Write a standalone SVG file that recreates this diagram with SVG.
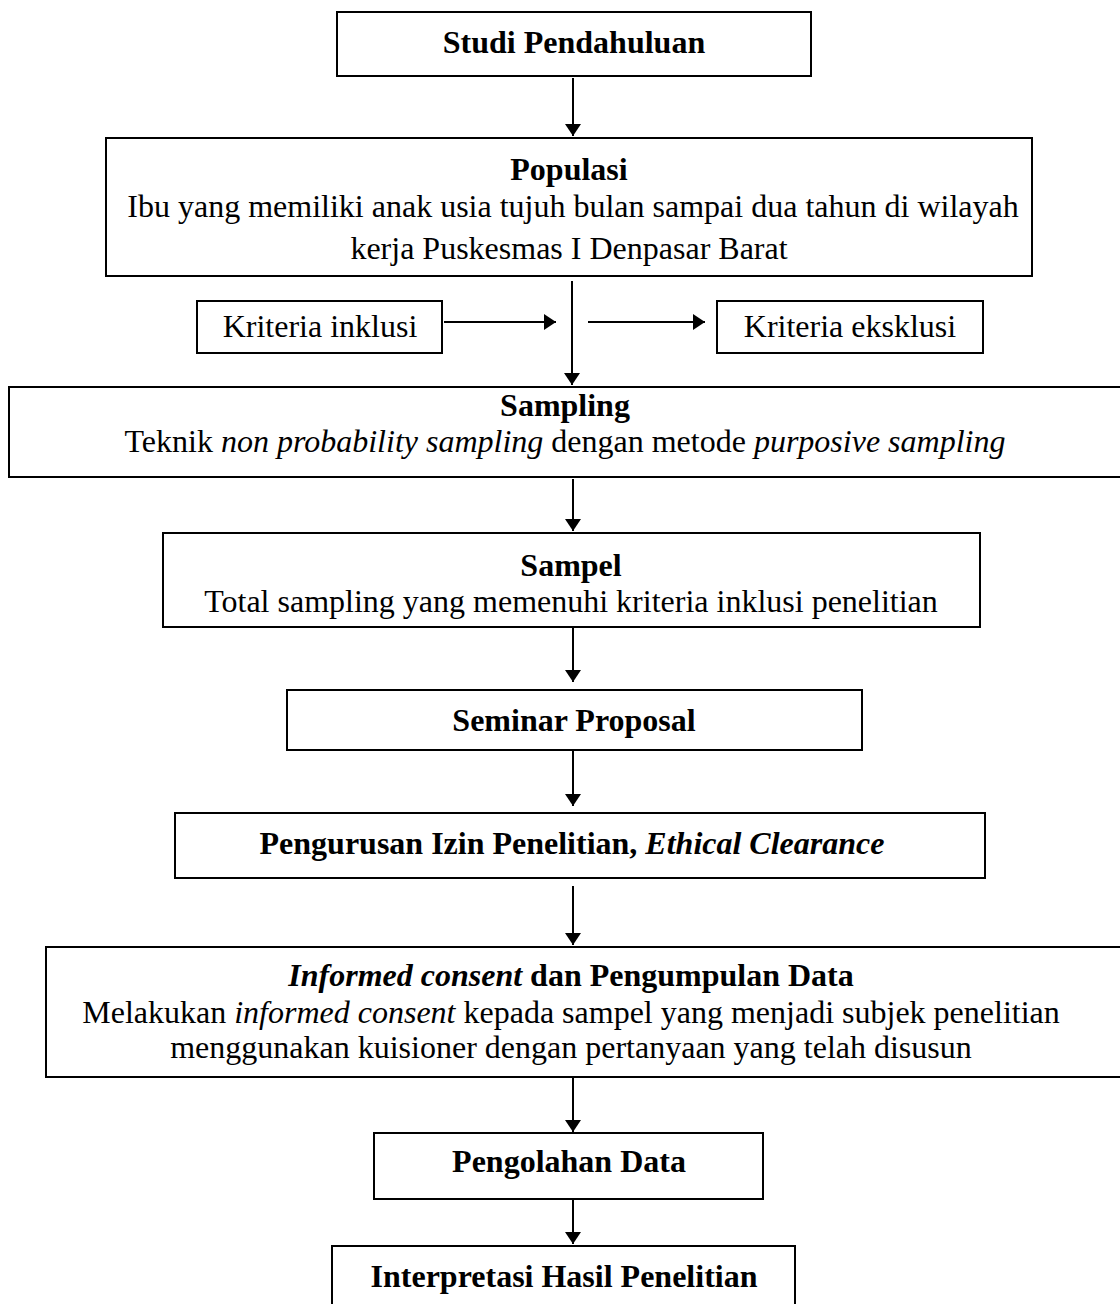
<svg xmlns="http://www.w3.org/2000/svg" width="1120" height="1304" viewBox="0 0 1120 1304">
<style>
.box{fill:#fff;stroke:#000;stroke-width:2}
.t{font-family:"Liberation Serif","Times New Roman",serif;font-size:32px;fill:#000;text-anchor:middle}
.b{font-weight:bold}
.i{font-style:italic}
.c{stroke:#000;stroke-width:2;fill:none}
</style>
<defs>
<marker id="ah" viewBox="0 0 12 16" refX="12" refY="8" markerWidth="12" markerHeight="16" markerUnits="userSpaceOnUse" orient="auto">
<path d="M0,0 L12,8 L0,16 Z" fill="#000"/>
</marker>
</defs>
<rect width="1120" height="1304" fill="#fff"/>
<g id="connectors">
<line class="c" x1="573" y1="78" x2="573" y2="136" marker-end="url(#ah)"/>
<line class="c" x1="572" y1="281" x2="572" y2="385" marker-end="url(#ah)"/>
<line class="c" x1="444" y1="322" x2="556" y2="322" marker-end="url(#ah)"/>
<line class="c" x1="588" y1="322" x2="705" y2="322" marker-end="url(#ah)"/>
<line class="c" x1="573" y1="479" x2="573" y2="531" marker-end="url(#ah)"/>
<line class="c" x1="573" y1="628" x2="573" y2="682" marker-end="url(#ah)"/>
<line class="c" x1="573" y1="751" x2="573" y2="806" marker-end="url(#ah)"/>
<line class="c" x1="573" y1="886" x2="573" y2="945" marker-end="url(#ah)"/>
<line class="c" x1="573" y1="1078" x2="573" y2="1132" marker-end="url(#ah)"/>
<line class="c" x1="573" y1="1200" x2="573" y2="1244" marker-end="url(#ah)"/>
</g>
<g id="studi">
<rect class="box" x="337" y="12" width="474" height="64"/>
<text class="t b" x="574" y="53">Studi Pendahuluan</text>
</g>
<g id="populasi">
<rect class="box" x="106" y="138" width="926" height="138"/>
<text class="t b" x="569" y="180">Populasi</text>
<text class="t" x="573" y="217">Ibu yang memiliki anak usia tujuh bulan sampai dua tahun di wilayah</text>
<text class="t" x="569" y="259">kerja Puskesmas I Denpasar Barat</text>
</g>
<g id="inklusi">
<rect class="box" x="197" y="301" width="245" height="52"/>
<text class="t" x="320" y="337">Kriteria inklusi</text>
</g>
<g id="eksklusi">
<rect class="box" x="717" y="301" width="266" height="52"/>
<text class="t" x="850" y="337">Kriteria eksklusi</text>
</g>
<g id="sampling">
<rect class="box" x="9" y="387" width="1120" height="90"/>
<text class="t b" x="565" y="416">Sampling</text>
<text class="t" x="565" y="452">Teknik <tspan class="i">non probability sampling</tspan> dengan metode <tspan class="i">purposive sampling</tspan></text>
</g>
<g id="sampel">
<rect class="box" x="163" y="533" width="817" height="94"/>
<text class="t b" x="571" y="576">Sampel</text>
<text class="t" x="571" y="612">Total sampling yang memenuhi kriteria inklusi penelitian</text>
</g>
<g id="seminar">
<rect class="box" x="287" y="690" width="575" height="60"/>
<text class="t b" x="574" y="731">Seminar Proposal</text>
</g>
<g id="izin">
<rect class="box" x="175" y="813" width="810" height="65"/>
<text class="t b" x="572" y="854">Pengurusan Izin Penelitian, <tspan class="i">Ethical Clearance</tspan></text>
</g>
<g id="informed">
<rect class="box" x="46" y="947" width="1080" height="130"/>
<text class="t b" x="571" y="986"><tspan class="i">Informed consent</tspan> dan Pengumpulan Data</text>
<text class="t" x="571" y="1023">Melakukan <tspan class="i">informed consent</tspan> kepada sampel yang menjadi subjek penelitian</text>
<text class="t" x="571" y="1058">menggunakan kuisioner dengan pertanyaan yang telah disusun</text>
</g>
<g id="pengolahan">
<rect class="box" x="374" y="1133" width="389" height="66"/>
<text class="t b" x="569" y="1172">Pengolahan Data</text>
</g>
<g id="interpretasi">
<rect class="box" x="332" y="1246" width="463" height="70"/>
<text class="t b" x="564" y="1287">Interpretasi Hasil Penelitian</text>
</g>
</svg>
